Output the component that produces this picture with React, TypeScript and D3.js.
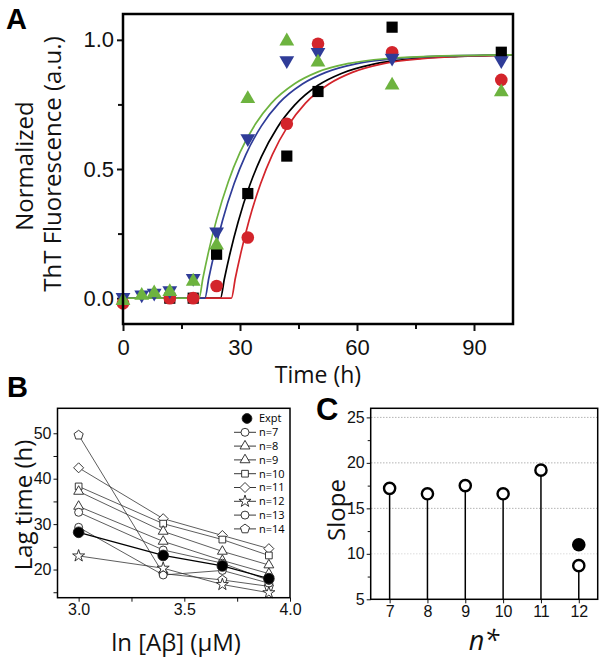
import React, { useEffect, useRef } from 'react';
import * as d3 from 'd3';

// ---------- panel A : ThT kinetics ----------
const blackT = [12, 18, 24, 32, 42, 50, 69, 97];
const blackY = [0, 0, 0.17, 0.405, 0.55, 0.8, 1.049, 0.952];
const redT = [0, 12, 18, 24, 32, 42, 50, 69, 97];
const redY = [-0.02, 0, 0, 0.047, 0.235, 0.675, 0.985, 0.952, 0.845];
const triT = [0, 4.8, 8, 12, 18, 24, 32, 42, 50, 69, 97];
const greenY = [-0.01, 0.01, 0.02, 0.025, 0.065, 0.205, 0.772, 0.995, 0.913, 0.824, 0.798];
const blueY = [0.003, 0.013, 0.02, 0.03, 0.077, 0.257, 0.618, 0.92, 0.952, 0.93, 0.92];

// fitted curves as [time, signal]
const blackFit = [[0, 0], [25, 0], [26, 0.075], [27.5, 0.177], [29.5, 0.294], [32.5, 0.437], [35.5, 0.548], [39.5, 0.659], [44, 0.747], [50, 0.824], [56, 0.87], [64, 0.905], [74, 0.926], [86, 0.936], [100, 0.941]];
const redFit = [[0, 0], [27.8, 0], [28.8, 0.077], [30.3, 0.18], [32.3, 0.3], [35.3, 0.444], [38.3, 0.556], [42.3, 0.667], [46.8, 0.755], [52.8, 0.829], [58.8, 0.874], [66.8, 0.908], [76.8, 0.927], [88.8, 0.937], [100, 0.941]];
const greenFit = [[0, 0], [19.5, 0], [20.5, 0.078], [22, 0.184], [24, 0.305], [27, 0.451], [30, 0.564], [34, 0.675], [38, 0.754], [44, 0.83], [50, 0.876], [58, 0.909], [68, 0.928], [80, 0.937], [100, 0.942]];
const blueFit = [[0, 0], [21, 0], [22, 0.077], [23.5, 0.18], [25.5, 0.3], [28.5, 0.444], [31.5, 0.556], [35.5, 0.667], [40, 0.755], [46, 0.829], [52, 0.874], [60, 0.908], [70, 0.927], [82, 0.937], [100, 0.942]];

const xTicksA = [0, 30, 60, 90];
const xMinorA = [15, 45, 75];
const yTicksA = [0, 0.5, 1.0];
const yMinorA = [0.25, 0.75];

// ---------- panel B : lag time vs ln[Ab] ----------
const lnConc = [3.0, 3.4, 3.68, 3.9];
const lagExpt = [28.2, 23.1, 20.8, 18.0];
const lagN7 = [32.6, 24.3, 21.4, 17.6];
const lagN8 = [33.9, 26.2, 22.0, 19.1];
const lagN9 = [37.2, 28.4, 24.0, 21.0];
const lagN10 = [38.3, 30.1, 26.6, 23.1];
const lagN11 = [42.4, 31.2, 27.5, 24.6];
const lagN12 = [23.0, 20.3, 16.7, 14.9];
const lagN13 = [29.3, 18.8, 19.8, 17.0];
const lagN14 = [49.6, 19.1, 17.7, 16.3];
const legendB = ['Expt', 'n=7', 'n=8', 'n=9', 'n=10', 'n=11', 'n=12', 'n=13', 'n=14'];

const xTicksB = [3.0, 3.5, 4.0];
const xMinorB = [3.25, 3.75];
const yTicksB = [20, 30, 40, 50];
const yMinorB = [15, 25, 35, 45];

// ---------- panel C : slope vs n* ----------
const nStar = [7, 8, 9, 10, 11, 12];
const slopeModel = [17.2, 16.6, 17.5, 16.6, 19.2, 8.7];
const exptN = [12];
const slopeExpt = [11.0];
const yTicksC = [5, 10, 15, 20, 25];
const yMinorC = [7.5, 12.5, 17.5, 22.5];

const FONT = '"Liberation Sans", Arial, sans-serif';
const TITLE_FONT = '"Open Sans", "Liberation Sans", sans-serif';

const symbolPentagon = {
    draw(ctx, size) {
        const r = Math.sqrt(size / 2.378);
        for (let i = 0; i < 5; i++) {
            const a = -Math.PI / 2 + i * 2 * Math.PI / 5;
            if (i === 0) ctx.moveTo(r * Math.cos(a), r * Math.sin(a));
            else ctx.lineTo(r * Math.cos(a), r * Math.sin(a));
        }
        ctx.closePath();
    }
};

const symbolRhomb = {
    draw(ctx, size) {
        const r = Math.sqrt(size / 2);
        ctx.moveTo(0, -r);
        ctx.lineTo(r, 0);
        ctx.lineTo(0, r);
        ctx.lineTo(-r, 0);
        ctx.closePath();
    }
};

const App = () => {
    const ref = useRef(null);

    useEffect(() => {
        const svg = d3.select(ref.current);
        svg.selectAll('*').remove();

        const styleAxis = (g, size) => {
            g.select('.domain').remove();
            g.selectAll('text').attr('font-family', FONT).attr('font-size', size).attr('fill', '#111');
            g.selectAll('line').attr('stroke', '#111');
        };

        const title = (g, x, y, txt, rotate = false, size = 24) =>
            g.append('text')
                .attr('transform', `translate(${x},${y})${rotate ? ' rotate(-90)' : ''}`)
                .attr('text-anchor', 'middle')
                .attr('font-family', TITLE_FONT)
                .attr('font-size', size)
                .attr('fill', '#111')
                .text(txt);

        // ================= A =================
        const xA = d3.scaleLinear().domain([0, 100]).range([123, 513]);
        const yA = d3.scaleLinear().domain([-0.1, 1.1]).range([324, 14]);
        const gA = svg.append('g');

        gA.append('g').attr('transform', 'translate(0,324)')
            .call(d3.axisBottom(xA).tickValues(xTicksA).tickSize(7).tickPadding(8).tickFormat(d3.format('d')))
            .call(g => styleAxis(g, 22))
            .selectAll('line').attr('stroke-width', 2);
        gA.append('g').attr('transform', 'translate(0,324)')
            .call(d3.axisBottom(xA).tickValues(xMinorA).tickSize(5).tickFormat(() => ''))
            .call(g => styleAxis(g, 22))
            .selectAll('line').attr('stroke-width', 2);
        gA.append('g').attr('transform', 'translate(123,0)')
            .call(d3.axisLeft(yA).tickValues(yTicksA).tickSize(6).tickPadding(3).tickFormat(d3.format('.1f')))
            .call(g => styleAxis(g, 22))
            .selectAll('line').attr('stroke-width', 2);
        gA.append('g').attr('transform', 'translate(123,0)')
            .call(d3.axisLeft(yA).tickValues(yMinorA).tickSize(5).tickFormat(() => ''))
            .call(g => styleAxis(g, 22))
            .selectAll('line').attr('stroke-width', 2);

        const lineA = d3.line().x(d => xA(d[0])).y(d => yA(d[1])).curve(d3.curveMonotoneX);
        const seriesA = [
            { fit: blackFit, t: blackT, y: blackY, color: '#000000', type: d3.symbolSquare, size: 125, rot: 0 },
            { fit: redFit, t: redT, y: redY, color: '#d3242b', type: d3.symbolCircle, size: 125, rot: 0 },
            { fit: blueFit, t: triT, y: blueY, color: '#2f3c98', type: d3.symbolTriangle, size: 95, rot: 180 },
            { fit: greenFit, t: triT, y: greenY, color: '#6db33f', type: d3.symbolTriangle, size: 95, rot: 0 },
        ];
        seriesA.forEach(s => {
            gA.append('path').datum(s.fit)
                .attr('d', lineA)
                .attr('fill', 'none')
                .attr('stroke', s.color)
                .attr('stroke-width', 1.7);
        });
        seriesA.forEach(s => {
            gA.selectAll(null)
                .data(s.t.map((t, i) => [t, s.y[i]]))
                .enter().append('path')
                .attr('d', d3.symbol().type(s.type).size(s.size))
                .attr('transform', d => `translate(${xA(d[0])},${yA(d[1])}) rotate(${s.rot})`)
                .attr('fill', s.color);
        });

        gA.append('rect')
            .attr('x', 123).attr('y', 14).attr('width', 390).attr('height', 310)
            .attr('fill', 'none').attr('stroke', '#000').attr('stroke-width', 2.5);

        gA.append('text').attr('x', 6).attr('y', 29)
            .attr('font-family', FONT).attr('font-size', 29).attr('font-weight', 'bold')
            .text('A');
        title(gA, 318, 383, 'Time (h)', false, 23);
        title(gA, 33, 166, 'Normalized', true);
        title(gA, 61, 164, 'ThT Fluorescence (a.u.)', true);

        // ================= B =================
        const xB = d3.scaleLinear().domain([2.9, 4.0]).range([57.5, 290]);
        const yB = d3.scaleLinear().domain([13.8, 55.5]).range([597.7, 408.3]);
        const gB = svg.append('g');

        gB.append('g').attr('transform', 'translate(0,597.7)')
            .call(d3.axisBottom(xB).tickValues(xTicksB).tickSize(4).tickPadding(2).tickFormat(d3.format('.1f')))
            .call(g => styleAxis(g, 16));
        gB.append('g').attr('transform', 'translate(0,597.7)')
            .call(d3.axisBottom(xB).tickValues(xMinorB).tickSize(4).tickFormat(() => ''))
            .call(g => styleAxis(g, 16));
        gB.append('g').attr('transform', 'translate(57.5,0)')
            .call(d3.axisLeft(yB).tickValues(yTicksB).tickSize(4).tickPadding(2))
            .call(g => styleAxis(g, 16));
        gB.append('g').attr('transform', 'translate(57.5,0)')
            .call(d3.axisLeft(yB).tickValues(yMinorB).tickSize(4).tickFormat(() => ''))
            .call(g => styleAxis(g, 16));

        const seriesB = [
            { name: 'n=14', v: lagN14, type: symbolPentagon, size: 55 },
            { name: 'n=13', v: lagN13, type: d3.symbolCircle, size: 50 },
            { name: 'n=12', v: lagN12, type: d3.symbolStar, size: 45 },
            { name: 'n=11', v: lagN11, type: symbolRhomb, size: 50 },
            { name: 'n=10', v: lagN10, type: d3.symbolSquare, size: 45 },
            { name: 'n=9', v: lagN9, type: d3.symbolTriangle, size: 42 },
            { name: 'n=8', v: lagN8, type: d3.symbolTriangle, size: 42 },
            { name: 'n=7', v: lagN7, type: d3.symbolCircle, size: 50 },
            { name: 'Expt', v: lagExpt, type: d3.symbolCircle, size: 90, filled: true },
        ];
        const lineB = d3.line().x((d, i) => xB(lnConc[i])).y(d => yB(d));
        seriesB.forEach(s => {
            gB.append('path').datum(s.v)
                .attr('d', lineB)
                .attr('fill', 'none')
                .attr('stroke', s.filled ? '#000' : '#333')
                .attr('stroke-width', s.filled ? 1.3 : 0.8);
        });
        seriesB.forEach(s => {
            gB.selectAll(null).data(s.v).enter().append('path')
                .attr('d', d3.symbol().type(s.type).size(s.size))
                .attr('transform', (d, i) => `translate(${xB(lnConc[i])},${yB(d)})`)
                .attr('fill', s.filled ? '#000' : '#fff')
                .attr('stroke', '#222')
                .attr('stroke-width', 0.9);
        });

        // legend
        const legendG = gB.selectAll('.legendB')
            .data(legendB)
            .enter().append('g')
            .attr('class', 'legendB')
            .attr('transform', (d, i) => `translate(245,${418.5 + i * 13.8})`);
        legendG.filter(d => d !== 'Expt').append('line')
            .attr('x1', -11).attr('x2', 11)
            .attr('stroke', '#222').attr('stroke-width', 0.9);
        legendG.append('path')
            .attr('d', d => {
                const s = seriesB.find(e => e.name === d);
                return d3.symbol().type(s.type).size(d === 'Expt' ? 75 : s.size)();
            })
            .attr('transform', d => d === 'Expt' ? 'translate(2,0)' : null)
            .attr('fill', d => d === 'Expt' ? '#000' : '#fff')
            .attr('stroke', '#222').attr('stroke-width', 0.9);
        legendG.append('text')
            .attr('x', 14).attr('dy', '0.35em')
            .attr('font-family', TITLE_FONT).attr('font-size', 11)
            .text(d => d);

        gB.append('rect')
            .attr('x', 57.5).attr('y', 408.3).attr('width', 232.5).attr('height', 189.4)
            .attr('fill', 'none').attr('stroke', '#000').attr('stroke-width', 1.5);

        gB.append('text').attr('x', 7).attr('y', 397)
            .attr('font-family', FONT).attr('font-size', 29).attr('font-weight', 'bold')
            .text('B');
        title(gB, 176, 651, 'ln [Aβ] (μM)');
        title(gB, 32, 505, 'Lag time (h)', true);

        // ================= C =================
        const xC = d3.scaleLinear().domain([6.5, 12.5]).range([370.7, 597.7]);
        const yC = d3.scaleLinear().domain([5, 26]).range([599.3, 408.3]);
        const gC = svg.append('g');

        gC.selectAll('.gridC')
            .data(yTicksC.filter(v => v > 5))
            .enter().append('line')
            .attr('x1', 371).attr('x2', 597)
            .attr('y1', d => yC(d)).attr('y2', d => yC(d))
            .attr('stroke', d => d === 10 ? '#dcdcdc' : '#b4b4b4')
            .attr('stroke-width', 1)
            .attr('stroke-dasharray', '1.5,1.5');

        gC.append('g').attr('transform', 'translate(0,599.3)')
            .call(d3.axisBottom(xC).tickValues(nStar).tickSize(4).tickPadding(2).tickFormat(d3.format('d')))
            .call(g => styleAxis(g, 16));
        gC.append('g').attr('transform', 'translate(370.7,0)')
            .call(d3.axisLeft(yC).tickValues(yTicksC).tickSize(4).tickPadding(2))
            .call(g => styleAxis(g, 16));
        gC.append('g').attr('transform', 'translate(370.7,0)')
            .call(d3.axisLeft(yC).tickValues(yMinorC).tickSize(3).tickFormat(() => ''))
            .call(g => styleAxis(g, 16));

        gC.selectAll('.stem')
            .data(nStar)
            .enter().append('line')
            .attr('x1', d => xC(d)).attr('x2', d => xC(d))
            .attr('y1', yC(5)).attr('y2', (d, i) => yC(slopeModel[i]))
            .attr('stroke', '#000').attr('stroke-width', 1.5);
        gC.selectAll('.openC')
            .data(nStar)
            .enter().append('circle')
            .attr('cx', d => xC(d)).attr('cy', (d, i) => yC(slopeModel[i]))
            .attr('r', 5.6)
            .attr('fill', '#fff').attr('stroke', '#000').attr('stroke-width', 2.4);
        gC.selectAll('.filledC')
            .data(exptN)
            .enter().append('circle')
            .attr('cx', d => xC(d)).attr('cy', (d, i) => yC(slopeExpt[i]))
            .attr('r', 6.8)
            .attr('fill', '#000');

        gC.append('rect')
            .attr('x', 370.7).attr('y', 408.3).attr('width', 227).attr('height', 191)
            .attr('fill', 'none').attr('stroke', '#000').attr('stroke-width', 1.5);

        gC.append('text').attr('x', 316).attr('y', 420)
            .attr('font-family', FONT).attr('font-size', 31).attr('font-weight', 'bold')
            .text('C');
        title(gC, 484, 650, 'n*', false, 27).attr('font-style', 'italic');
        title(gC, 345, 510, 'Slope', true);
    }, []);

    return (
        <svg ref={ref} width={604} height={662}
            style={{ position: 'absolute', left: 0, top: 0, background: '#fff' }} />
    );
};

export default App;
